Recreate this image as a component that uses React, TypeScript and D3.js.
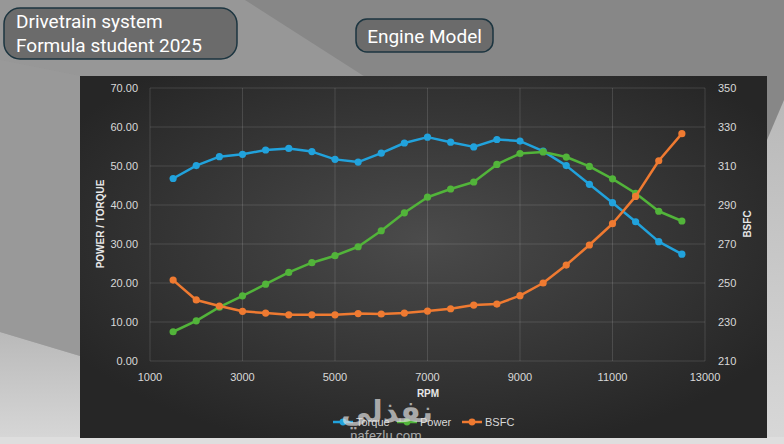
import React, { useRef, useEffect } from 'react';
import * as d3 from 'd3';

const rpm = [1500, 2000, 2500, 3000, 3500, 4000, 4500, 5000, 5500, 6000, 6500, 7000,
  7500, 8000, 8500, 9000, 9500, 10000, 10500, 11000, 11500, 12000, 12500];
const torque = [46.8, 50.1, 52.4, 53.0, 54.1, 54.5, 53.7, 51.7, 51.0, 53.3, 55.9, 57.4,
  56.1, 54.9, 56.8, 56.4, 53.8, 50.1, 45.3, 40.6, 35.7, 30.6, 27.4];
const power = [7.5, 10.3, 13.8, 16.7, 19.7, 22.7, 25.2, 27.0, 29.3, 33.4, 38.0, 42.0,
  44.1, 45.9, 50.4, 53.2, 53.6, 52.3, 49.9, 46.7, 43.0, 38.4, 35.9];
const bsfc = [251.5, 241.3, 238.2, 235.5, 234.6, 233.7, 233.7, 233.7, 234.3, 234.1, 234.6, 235.6,
  236.8, 238.7, 239.2, 243.5, 250.0, 259.2, 269.5, 280.4, 294.4, 312.7, 326.6];

const xTicks = [1000, 3000, 5000, 7000, 9000, 11000, 13000];
const leftTicks = [0, 10, 20, 30, 40, 50, 60, 70];
const rightTicks = [210, 230, 250, 270, 290, 310, 330, 350];

const seriesNames = ['Torque', 'Power', 'BSFC'];
const seriesColors = ['#21a2dc', '#52b43a', '#ef7a31'];

const App = () => {
  const ref = useRef<SVGSVGElement | null>(null);

  useEffect(() => {
    if (!ref.current) return;
    const svg = d3.select(ref.current);
    svg.selectAll('*').remove();

    const defs = svg.append('defs');
    const rg = defs.append('radialGradient').attr('id', 'panelGrad')
      .attr('cx', '50%').attr('cy', '45%').attr('r', '60%');
    rg.append('stop').attr('offset', '0%').attr('stop-color', '#4b4b4b');
    rg.append('stop').attr('offset', '100%').attr('stop-color', '#262626');
    const lg = defs.append('linearGradient').attr('id', 'lightGrad')
      .attr('x1', 0).attr('y1', 0).attr('x2', 0).attr('y2', 1);
    lg.append('stop').attr('offset', '0%').attr('stop-color', '#b9b9b9');
    lg.append('stop').attr('offset', '100%').attr('stop-color', '#d8d8d8');

    // slide background
    svg.append('rect').attr('width', 784).attr('height', 444).attr('fill', '#878787');
    svg.append('polygon').attr('points', '0,0 245,0 370,80 0,80').attr('fill', '#979797');
    svg.append('polygon').attr('points', '0,60 80,76 80,356 0,332').attr('fill', '#999999');
    svg.append('polygon').attr('points', '0,332 80,356 80,444 0,444').attr('fill', 'url(#lightGrad)');
    svg.append('polygon').attr('points', '767,140 784,100 784,444 767,444').attr('fill', 'url(#lightGrad)');
    svg.append('rect').attr('x', 0).attr('y', 437).attr('width', 784).attr('height', 7).attr('fill', '#dedede');

    // title boxes
    svg.append('rect').attr('x', 4).attr('y', 8).attr('width', 233).attr('height', 51)
      .attr('rx', 16).attr('fill', '#6b6b6b').attr('stroke', '#1c3540').attr('stroke-width', 1.5);
    svg.append('text').attr('x', 16).attr('y', 28).attr('fill', '#ffffff')
      .style('font-family', 'Roboto').style('font-size', '19px').text('Drivetrain system');
    svg.append('text').attr('x', 16).attr('y', 52).attr('fill', '#ffffff')
      .style('font-family', 'Roboto').style('font-size', '19px').text('Formula student 2025');
    svg.append('rect').attr('x', 356).attr('y', 19).attr('width', 137).attr('height', 33)
      .attr('rx', 11).attr('fill', '#6b6b6b').attr('stroke', '#1c3540').attr('stroke-width', 1.5);
    svg.append('text').attr('x', 424.5).attr('y', 42.5).attr('text-anchor', 'middle').attr('fill', '#ffffff')
      .style('font-family', 'Roboto').style('font-size', '19px').text('Engine Model');

    // chart panel
    svg.append('rect').attr('x', 80).attr('y', 76).attr('width', 687).attr('height', 362)
      .attr('fill', 'url(#panelGrad)');

    const x = d3.scaleLinear().domain([1000, 13000]).range([150, 705]);
    const yL = d3.scaleLinear().domain([0, 70]).range([361, 88]);
    const yR = d3.scaleLinear().domain([210, 350]).range([361, 88]);

    const grid = svg.append('g').attr('stroke', 'rgba(255,255,255,0.13)').attr('stroke-width', 1);
    leftTicks.forEach(t => {
      grid.append('line').attr('x1', x(1000)).attr('x2', x(13000)).attr('y1', yL(t)).attr('y2', yL(t));
    });
    xTicks.forEach(t => {
      grid.append('line').attr('x1', x(t)).attr('x2', x(t)).attr('y1', yL(0)).attr('y2', yL(70));
    });

    const labelStyle = (sel: any) => sel.attr('fill', '#d9d9d9')
      .style('font-family', 'Liberation Sans, Arial, sans-serif').style('font-size', '11px');

    leftTicks.forEach(t => {
      svg.append('text').attr('x', 138).attr('y', yL(t)).attr('dy', '0.35em')
        .attr('text-anchor', 'end').call(labelStyle).text(d3.format('.2f')(t));
    });
    rightTicks.forEach(t => {
      svg.append('text').attr('x', 718).attr('y', yR(t)).attr('dy', '0.35em')
        .call(labelStyle).text(String(t));
    });
    xTicks.forEach(t => {
      svg.append('text').attr('x', x(t)).attr('y', 377).attr('dy', '0.35em')
        .attr('text-anchor', 'middle').call(labelStyle).text(String(t));
    });

    const titleStyle = (sel: any) => sel.attr('fill', '#e8e8e8')
      .style('font-family', 'Liberation Sans, Arial, sans-serif').style('font-size', '10px')
      .style('font-weight', 'bold');
    svg.append('text').attr('transform', 'translate(104,224) rotate(-90)')
      .attr('text-anchor', 'middle').call(titleStyle).text('POWER / TORQUE');
    svg.append('text').attr('transform', 'translate(751,224) rotate(-90)')
      .attr('text-anchor', 'middle').call(titleStyle).text('BSFC');
    svg.append('text').attr('x', 428).attr('y', 397).attr('text-anchor', 'middle')
      .call(titleStyle).text('RPM');

    const series = [
      { values: torque, y: yL },
      { values: power, y: yL },
      { values: bsfc, y: yR },
    ];

    series.forEach((s, i) => {
      const pts: [number, number][] = rpm.map((r, j) => [r, s.values[j]]);
      const line = d3.line<[number, number]>().x(d => x(d[0])).y(d => s.y(d[1]));
      svg.append('path').datum(pts).attr('d', line).attr('fill', 'none')
        .attr('stroke', seriesColors[i]).attr('stroke-width', 2.5)
        .attr('stroke-linejoin', 'round');
      svg.append('g').selectAll('circle').data(pts).join('circle')
        .attr('cx', d => x(d[0])).attr('cy', d => s.y(d[1])).attr('r', 3.6)
        .attr('fill', seriesColors[i]);
    });

    // legend
    const legendX = [333, 397, 462];
    seriesNames.forEach((name, i) => {
      const g = svg.append('g').attr('transform', `translate(${legendX[i]},422)`);
      g.append('line').attr('x1', 0).attr('x2', 20).attr('stroke', seriesColors[i]).attr('stroke-width', 2.5);
      g.append('circle').attr('cx', 10).attr('r', 3.4).attr('fill', seriesColors[i]);
      g.append('text').attr('x', 23).attr('dy', '0.35em').call(labelStyle).text(name);
    });

    // watermark
    svg.append('text').attr('x', 387).attr('y', 422).attr('text-anchor', 'middle')
      .attr('fill', 'rgba(225,225,225,0.7)')
      .style('font-family', 'DejaVu Sans').style('font-weight', 'bold').style('font-size', '30px')
      .text('نفذلي');
    svg.append('text').attr('x', 386).attr('y', 440).attr('text-anchor', 'middle')
      .attr('fill', 'rgba(225,225,225,0.7)')
      .style('font-family', 'Roboto').style('font-size', '13px')
      .text('nafezlu.com');
  }, []);

  return (
    <svg ref={ref} width={784} height={444}
      style={{ position: 'absolute', left: 0, top: 0, display: 'block' }} />
  );
};

export default App;
